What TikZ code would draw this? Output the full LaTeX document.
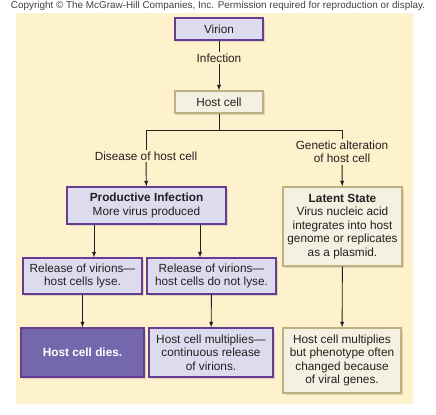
\documentclass[tikz,border=0pt]{standalone}
\usepackage{fontspec}
\setmainfont{Liberation Sans}
\usetikzlibrary{arrows,shadows}
\definecolor{bgyel}{HTML}{FDF2CC}
\definecolor{lav}{HTML}{DCDCEE}
\definecolor{purp}{HTML}{673C92}
\definecolor{dpurp}{HTML}{7467AB}
\definecolor{tanf}{HTML}{F4F0E2}
\definecolor{tanb}{HTML}{BFB07F}
\definecolor{ink}{HTML}{231F20}

\begin{document}
\begin{tikzpicture}[x=1bp,y=-1bp,>=latex,inner sep=1pt,
  font=\fontsize{11.8bp}{13.5bp}\selectfont,text=ink,
  box/.style={draw,line width=1.3bp,align=center,
    drop shadow={opacity=0.25,shadow xshift=1.5bp,shadow yshift=-2bp}},
  pbox/.style={box,draw=purp,fill=lav},
  tbox/.style={box,draw=tanb,fill=tanf},
  lbl/.style={fill=bgyel,align=center,inner sep=1.5bp},
  conn/.style={draw=ink,line width=0.9bp}]
\useasboundingbox (0,0) rectangle (436,414);
\fill[bgyel] (16,13) rectangle (413,404);
\node[font=\fontsize{9.9bp}{11bp}\selectfont,text=black!75,inner sep=0pt] (copy) at (218,5.5)
  {Copyright © The McGraw-Hill Companies, Inc. Permission required for reproduction or display.};
% top of the chart
\node[pbox,minimum width=88bp,minimum height=22bp] (virion) at (219,29) {Virion};
\node[lbl] (inf) at (219,58) {Infection};
\node[tbox,minimum width=88bp,minimum height=22bp] (host) at (219,102) {Host cell};
\coordinate (jm) at (219,130);
\coordinate (jl) at (146,130);
\coordinate (jr) at (342,130);
\node[lbl] (dis) at (146,156) {Disease of host cell};
\node[lbl] (gen) at (342,152) {Genetic alteration\\of host cell};
% second row
\node[pbox,minimum width=159bp,minimum height=37bp] (prod) at (146.5,205.5)
  {\textbf{Productive Infection}\\More virus produced};
\node[tbox,minimum width=119bp,minimum height=79bp] (lat) at (342.5,226.5)
  {\textbf{Latent State}\\Virus nucleic acid\\integrates into host\\genome or replicates\\as a plasmid.};
\node[pbox,minimum width=119bp,minimum height=36bp] (rlyse) at (82.5,276)
  {Release of virions—\\host cells lyse.};
\node[pbox,minimum width=129bp,minimum height=36bp] (rkeep) at (211.5,276)
  {Release of virions—\\host cells do not lyse.};
% bottom row
\node[box,draw=purp,fill=dpurp,text=white,font=\fontsize{11.8bp}{13.5bp}\selectfont\bfseries,
  minimum width=123bp,minimum height=49bp] (dies) at (82.5,352.5) {Host cell dies.};
\node[pbox,minimum width=124bp,minimum height=49bp] (cont) at (211,352.5)
  {Host cell multiplies—\\continuous release\\of virions.};
\node[tbox,minimum width=118bp,minimum height=65bp] (pheno) at (342,360.5)
  {Host cell multiplies\\but phenotype often\\changed because\\of viral genes.};
\coordinate (p1) at (94,0);
\coordinate (p2) at (200,0);
\draw[conn] (virion) -- (inf); \draw[conn,->] (inf) -- (host);
\draw[conn] (host) -- (jm); \draw[conn] (jl) -- (jr);
\draw[conn] (jl) -- (dis); \draw[conn,->] (dis) -- (prod);
\draw[conn] (jr) -- (gen); \draw[conn,->] (gen) -- (lat);
\draw[conn,->] (prod.south -| p1) -- (rlyse.north -| p1);
\draw[conn,->] (prod.south -| p2) -- (rkeep.north -| p2);
\draw[conn,->] (rlyse) -- (dies);
\draw[conn,->] (rkeep) -- (cont);
\draw[conn,->] (lat) -- (pheno);
\end{tikzpicture}
\end{document}
